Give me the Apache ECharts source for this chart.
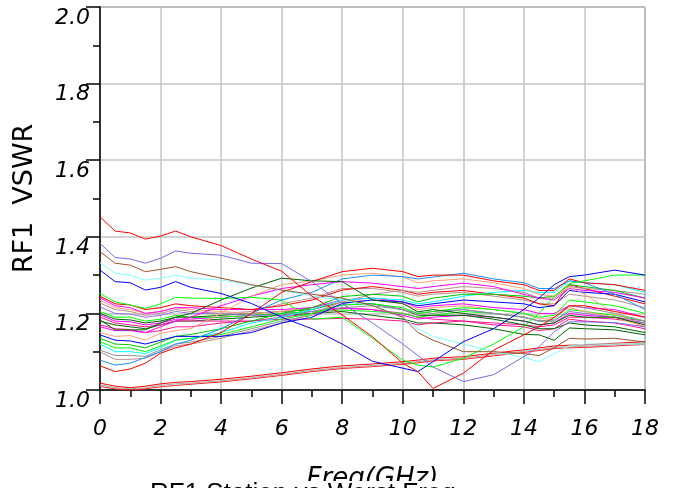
<!DOCTYPE html>
<html><head><meta charset="utf-8">
<script src="https://cdn.jsdelivr.net/npm/echarts@6/dist/echarts.min.js"></script>
<style>html,body{margin:0;padding:0;background:#fff}#c{width:681px;height:488px}</style>
</head><body><div id="c"></div>
<script>
const freq = [0,0.5,1,1.5,2,2.5,3,4,5,6,7,8,9,10,10.5,11,12,13,14,14.5,15,15.5,16,17,18];
const xTicks = [0,2,4,6,8,10,12,14,16,18];
const yTicks = [1.0,1.2,1.4,1.6,1.8,2.0];

const L1 = [1.452,1.415,1.41,1.394,1.402,1.415,1.40,1.377,1.342,1.31,1.245,1.196,1.139,1.07,1.048,1.004,1.044,1.104,1.144,1.165,1.19,1.22,1.22,1.205,1.19];
const L2 = [1.383,1.346,1.342,1.331,1.344,1.363,1.357,1.352,1.331,1.33,1.283,1.225,1.175,1.12,1.09,1.06,1.022,1.04,1.087,1.113,1.152,1.178,1.178,1.176,1.165];
const L3 = [1.361,1.331,1.326,1.309,1.315,1.322,1.309,1.292,1.275,1.261,1.25,1.24,1.22,1.19,1.15,1.13,1.10,1.10,1.095,1.09,1.11,1.135,1.133,1.135,1.125];
const L4 = [1.313,1.283,1.28,1.261,1.268,1.283,1.268,1.252,1.226,1.19,1.16,1.12,1.075,1.057,1.048,1.074,1.126,1.16,1.21,1.24,1.275,1.296,1.30,1.313,1.30];
const L5 = [1.332,1.305,1.30,1.287,1.292,1.30,1.292,1.287,1.274,1.261,1.245,1.235,1.22,1.19,1.16,1.14,1.12,1.10,1.085,1.074,1.095,1.115,1.12,1.12,1.12];
const L6 = [1.183,1.157,1.157,1.157,1.175,1.19,1.20,1.235,1.266,1.292,1.285,1.283,1.235,1.226,1.204,1.21,1.20,1.19,1.18,1.17,1.175,1.195,1.19,1.19,1.17];
const L7 = [1.252,1.23,1.222,1.213,1.225,1.242,1.24,1.239,1.242,1.235,1.185,1.19,1.135,1.078,1.065,1.06,1.083,1.12,1.165,1.20,1.243,1.278,1.285,1.30,1.30];
const R1 = [1.063,1.048,1.055,1.07,1.096,1.11,1.12,1.15,1.20,1.255,1.283,1.309,1.318,1.309,1.296,1.30,1.30,1.285,1.275,1.26,1.26,1.29,1.28,1.275,1.26];
const R2 = [1.078,1.065,1.07,1.085,1.10,1.12,1.13,1.16,1.20,1.235,1.255,1.29,1.30,1.296,1.29,1.295,1.305,1.29,1.28,1.265,1.265,1.285,1.28,1.25,1.21];
const R3 = [1.15,1.14,1.142,1.13,1.148,1.155,1.16,1.20,1.245,1.275,1.285,1.30,1.305,1.295,1.28,1.285,1.29,1.28,1.265,1.25,1.245,1.27,1.25,1.20,1.165];
const R4 = [1.165,1.155,1.155,1.15,1.165,1.18,1.19,1.22,1.245,1.265,1.275,1.283,1.279,1.27,1.265,1.27,1.279,1.27,1.25,1.24,1.235,1.265,1.26,1.255,1.24];
const R5 = [1.144,1.13,1.128,1.12,1.13,1.14,1.14,1.14,1.15,1.175,1.19,1.226,1.235,1.23,1.22,1.225,1.235,1.23,1.225,1.215,1.22,1.26,1.255,1.25,1.23];
const R6 = [1.135,1.12,1.118,1.11,1.125,1.14,1.145,1.16,1.18,1.20,1.215,1.244,1.25,1.245,1.23,1.24,1.25,1.25,1.245,1.24,1.245,1.275,1.27,1.26,1.24];
const R7 = [1.126,1.11,1.11,1.10,1.115,1.13,1.135,1.145,1.165,1.185,1.20,1.222,1.225,1.215,1.20,1.205,1.215,1.21,1.20,1.19,1.195,1.235,1.23,1.22,1.20];
const R8 = [1.12,1.10,1.10,1.095,1.11,1.13,1.135,1.15,1.175,1.19,1.21,1.235,1.24,1.235,1.225,1.23,1.245,1.255,1.26,1.255,1.255,1.285,1.28,1.275,1.255];
const R9 = [1.104,1.09,1.09,1.088,1.105,1.12,1.125,1.14,1.16,1.18,1.195,1.215,1.22,1.21,1.195,1.20,1.21,1.20,1.19,1.18,1.185,1.22,1.215,1.20,1.18];
const R10 = [1.10,1.08,1.08,1.083,1.10,1.115,1.12,1.135,1.155,1.175,1.20,1.23,1.25,1.26,1.255,1.26,1.27,1.265,1.255,1.24,1.24,1.27,1.265,1.26,1.25];
const F2 = [1.245,1.225,1.222,1.21,1.215,1.225,1.22,1.215,1.21,1.22,1.235,1.261,1.27,1.26,1.25,1.255,1.26,1.25,1.24,1.225,1.22,1.275,1.265,1.245,1.225];
const F3 = [1.241,1.22,1.215,1.20,1.205,1.215,1.215,1.21,1.21,1.21,1.215,1.235,1.24,1.23,1.215,1.22,1.225,1.215,1.21,1.20,1.20,1.22,1.215,1.21,1.19];
const F4 = [1.235,1.215,1.21,1.20,1.205,1.215,1.21,1.205,1.20,1.205,1.215,1.23,1.235,1.225,1.21,1.215,1.22,1.21,1.20,1.185,1.19,1.215,1.205,1.19,1.165];
const F5 = [1.227,1.21,1.205,1.195,1.20,1.21,1.205,1.20,1.205,1.225,1.24,1.265,1.265,1.255,1.245,1.25,1.255,1.245,1.235,1.225,1.225,1.25,1.245,1.235,1.215];
const F6 = [1.217,1.20,1.198,1.19,1.195,1.205,1.20,1.20,1.195,1.195,1.205,1.222,1.225,1.21,1.20,1.205,1.21,1.20,1.19,1.18,1.18,1.205,1.20,1.19,1.175];
const F7 = [1.20,1.185,1.183,1.175,1.18,1.19,1.19,1.195,1.20,1.205,1.21,1.23,1.225,1.21,1.195,1.195,1.195,1.185,1.17,1.16,1.16,1.175,1.17,1.165,1.15];
const F8 = [1.205,1.19,1.19,1.18,1.185,1.195,1.19,1.19,1.195,1.20,1.205,1.209,1.205,1.20,1.19,1.195,1.205,1.20,1.19,1.18,1.18,1.21,1.205,1.195,1.18];
const F9 = [1.196,1.18,1.178,1.17,1.175,1.185,1.185,1.19,1.195,1.20,1.205,1.215,1.21,1.195,1.185,1.19,1.195,1.19,1.18,1.17,1.175,1.20,1.195,1.19,1.18];
const F10 = [1.19,1.175,1.17,1.165,1.17,1.18,1.18,1.18,1.18,1.185,1.185,1.187,1.185,1.18,1.17,1.175,1.18,1.175,1.17,1.165,1.17,1.19,1.19,1.185,1.175];
const F12 = [1.17,1.16,1.158,1.15,1.155,1.165,1.165,1.175,1.18,1.19,1.20,1.213,1.21,1.20,1.19,1.185,1.18,1.17,1.165,1.155,1.16,1.185,1.18,1.175,1.16];
const F13 = [1.18,1.17,1.165,1.16,1.17,1.18,1.18,1.185,1.19,1.195,1.20,1.205,1.195,1.185,1.175,1.175,1.17,1.16,1.145,1.144,1.13,1.162,1.16,1.157,1.144];
const B1 = [1.018,1.01,1.006,1.01,1.016,1.02,1.022,1.028,1.036,1.045,1.055,1.063,1.068,1.074,1.078,1.083,1.087,1.096,1.105,1.11,1.115,1.117,1.118,1.122,1.126];
const B2 = [1.013,1.006,1.003,1.006,1.012,1.016,1.018,1.024,1.032,1.041,1.051,1.059,1.064,1.07,1.074,1.079,1.083,1.092,1.101,1.106,1.111,1.113,1.114,1.118,1.122];
const B3 = [1.009,1.003,1.0,1.003,1.008,1.012,1.015,1.021,1.029,1.038,1.048,1.056,1.061,1.067,1.071,1.076,1.08,1.089,1.098,1.103,1.108,1.11,1.111,1.115,1.119];

const traces = [
  [B2,'#a8a8a8'],[B3,'#ff2a2a'],[B1,'#ff0000'],
  [F13,'#006400'],[F12,'#ff1493'],[F10,'#ff1493'],[F9,'#ff00ff'],[F8,'#00ff00'],[F7,'#006400'],
  [F6,'#9370db'],[F5,'#bc8f8f'],[F4,'#ffa07a'],[F3,'#ff00ff'],[F2,'#ff0000'],
  [R10,'#bc8f8f'],[R9,'#909090'],[R8,'#00ffff'],[R7,'#00ff00'],[R6,'#00c800'],[R5,'#0000ff'],
  [R4,'#ff00ff'],[R3,'#ffa07a'],[R2,'#1e90ff'],[R1,'#ff0000'],
  [L7,'#00ff00'],[L6,'#006400'],[L5,'#80ffff'],[L4,'#0000ff'],[L3,'#a0522d'],[L2,'#7b68ee'],[L1,'#ff0000']
];

const axisFont = {fontFamily:'DejaVu Sans', fontStyle:'italic', fontSize:22, color:'#000'};
const chart = echarts.init(document.getElementById('c'), null, {renderer:'canvas'});
chart.setOption({
  animation:false,
  backgroundColor:'#fff',
  grid:{left:100, right:36, top:7, bottom:98, containLabel:false, outerBoundsMode:'none', show:true, borderColor:'#444', borderWidth:1},
  xAxis:{
    type:'value', min:0, max:18, interval:2,
    name:'Freq(GHz)', nameLocation:'middle', nameGap:76,
    nameTextStyle:{fontFamily:'DejaVu Sans', fontStyle:'italic', fontSize:26, color:'#000'},
    axisLine:{show:true, onZero:false, lineStyle:{color:'#000', width:1.5}},
    axisTick:{show:true, length:14, lineStyle:{color:'#000', width:1.5}},
    minorTick:{show:true, splitNumber:2, length:7, lineStyle:{color:'#000', width:1.5}},
    axisLabel:Object.assign({margin:28, hideOverlap:false, formatter:v=>xTicks.includes(v)?String(v):''}, axisFont),
    splitLine:{show:true, lineStyle:{color:'#c4c4c4', width:1.5}}
  },
  yAxis:{
    type:'value', min:1.0, max:2.0, interval:0.2,
    name:'RF1  VSWR', nameLocation:'middle', nameGap:62, nameRotate:90,
    nameTextStyle:{fontFamily:'DejaVu Sans', fontSize:27, color:'#000'},
    axisLine:{show:true, onZero:false, lineStyle:{color:'#000', width:1.5}},
    axisTick:{show:true, length:14, lineStyle:{color:'#000', width:1.5}},
    minorTick:{show:true, splitNumber:2, length:7, lineStyle:{color:'#000', width:1.5}},
    axisLabel:Object.assign({margin:10, verticalAlign:'top', hideOverlap:false, formatter:v=>{const t=yTicks.find(y=>Math.abs(y-v)<1e-6);return t!==undefined?t.toFixed(1):'';}}, axisFont),
    splitLine:{show:true, lineStyle:{color:'#c4c4c4', width:1.5}}
  },
  graphic:[
    {type:'rect', left:0, top:481, z:100, shape:{width:681, height:7}, style:{fill:'#fff'}},
    {type:'text', left:150, top:481, z:101, style:{text:'RF1 Station vs Worst Freq', font:'26px "Liberation Sans"', fill:'#000'}}
  ],
  series: traces.map(([vals,col])=>({
    type:'line', showSymbol:false, symbol:'none', clip:true,
    lineStyle:{color:col, width:1},
    data: freq.map((f,i)=>[f, vals[i]])
  }))
});
</script></body></html>
